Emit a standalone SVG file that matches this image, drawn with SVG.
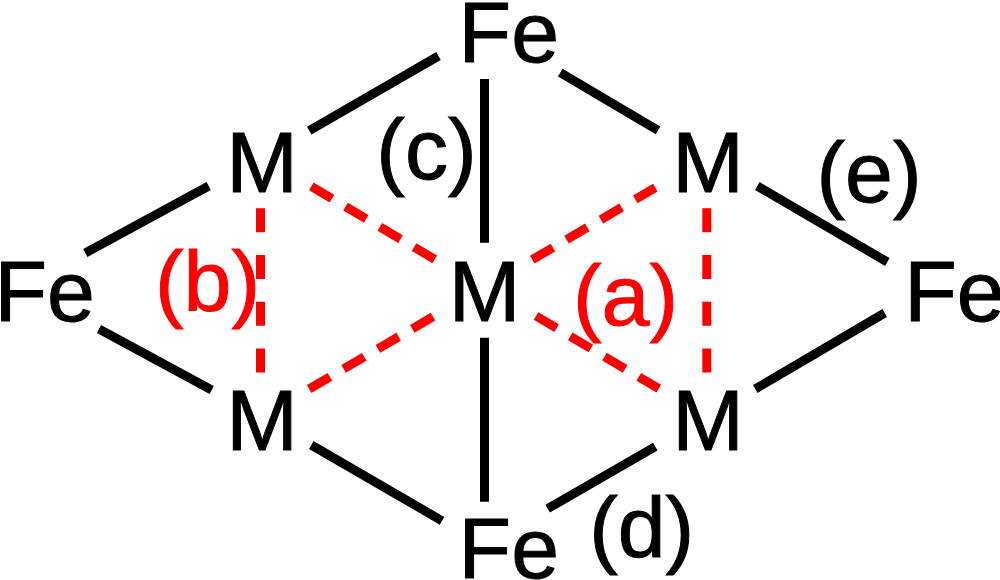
<svg xmlns="http://www.w3.org/2000/svg" width="1000" height="580" viewBox="0 0 1000 580">
<style>
text{font-family:"Liberation Sans",Arial,sans-serif;font-size:86px;fill:#000;stroke:#000;stroke-width:1;text-anchor:middle}
text.r{fill:#f00;stroke:#f00}
.b{stroke:#000;stroke-width:9;fill:none}
.d{stroke:#f00;stroke-width:9;fill:none;stroke-dasharray:24 15.8}
.v{stroke-dasharray:24 22.7}
</style>
<rect width="1000" height="580" fill="#fff"/>
<g id="connectors">
<path class="b" d="M309.3 130.7L438.5 56M560.3 72.7L658 130.3M484.5 79V242.7M208.7 186L85.3 253M99 329L211.7 390M311.3 445L442 520.8M484.5 337.7V501.7M547.7 508.7L655.3 446.7M757.3 186L887.3 262M884.7 313L755.3 389"/>
<path class="d" d="M311.3 186.3L434.8 259.3M309.2 389L433 316.7M532.2 259.7L655.3 187.7M536 316L658.8 388.7"/>
<path class="d v" d="M260.5 208.3V372.5M706.8 208.3V372.5"/>
</g>
<g id="fe-top"><text x="508.8" y="62">Fe</text></g>
<g id="fe-left"><text x="44.7" y="320.5">Fe</text></g>
<g id="fe-right"><text x="954.4" y="320.5">Fe</text></g>
<g id="fe-bottom"><text x="508.8" y="578">Fe</text></g>
<g id="m-tl"><text x="262" y="191.5">M</text></g>
<g id="m-tr"><text x="708" y="191.5">M</text></g>
<g id="m-c"><text x="484.5" y="320.5">M</text></g>
<g id="m-bl"><text x="262" y="449.5">M</text></g>
<g id="m-br"><text x="708" y="449.5">M</text></g>
<g id="label-a"><text class="r" x="625.5" y="325">(a)</text></g>
<g id="label-b"><text class="r" x="207.5" y="311">(b)</text></g>
<g id="label-c"><text x="426.5" y="179">(c)</text></g>
<g id="label-d"><text x="641.7" y="556.5">(d)</text></g>
<g id="label-e"><text x="869" y="202">(e)</text></g>
</svg>
